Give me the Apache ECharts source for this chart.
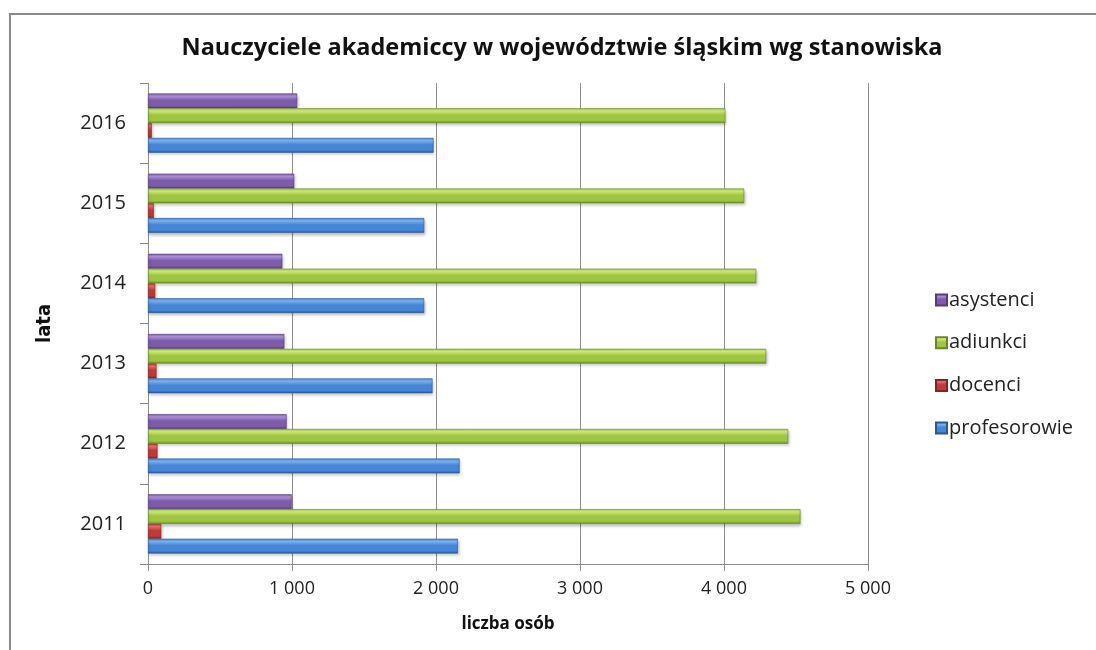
<!DOCTYPE html>
<html>
<head>
<meta charset="utf-8">
<script src="https://cdn.jsdelivr.net/npm/echarts@6/dist/echarts.min.js"></script>
<style>
  html, body { margin: 0; padding: 0; background: #ffffff; }
  #chart { width: 1096px; height: 650px; }
</style>
</head>
<body>
<div id="chart"></div>
<script>
// Lata (oś kategorii, od dołu do góry)
const years = ['2011', '2012', '2013', '2014', '2015', '2016'];

// Liczba osób wg stanowiska
const profesorowie = [2152, 2164, 1976, 1918, 1918, 1983];
const docenci      = [92, 66, 59, 50, 40, 26];
const adiunkci     = [4531, 4446, 4293, 4224, 4140, 4010];
const asystenci    = [998, 963, 947, 933, 1016, 1036];

const legendOrder = ['asystenci', 'adiunkci', 'docenci', 'profesorowie'];

const FONT = '"Open Sans", "Liberation Sans", sans-serif';

// Pionowy gradient dający efekt wypukłego, "szklanego" słupka
function bevel(light, base, dark) {
  return new echarts.graphic.LinearGradient(0, 0, 0, 1, [
    { offset: 0, color: base },
    { offset: 0.18, color: light },
    { offset: 0.45, color: base },
    { offset: 0.82, color: base },
    { offset: 1, color: dark }
  ]);
}

const palette = {
  profesorowie: { light: '#7fb8f4', base: '#4686d8', dark: '#2a5895' },
  docenci:      { light: '#e27471', base: '#c23a36', dark: '#862320' },
  adiunkci:     { light: '#d3f081', base: '#9fc640', dark: '#67882a' },
  asystenci:    { light: '#b394dc', base: '#7f5cab', dark: '#553d78' }
};

function makeSeries(name, values) {
  const p = palette[name];
  return {
    name: name,
    type: 'bar',
    data: values,
    barGap: '0%',
    barWidth: 14.8,
    itemStyle: {
      color: bevel(p.light, p.base, p.dark),
      borderColor: p.dark,
      borderWidth: 0.6,
      shadowColor: 'rgba(0,0,0,0.25)',
      shadowBlur: 3,
      shadowOffsetX: 1,
      shadowOffsetY: 2
    },
    emphasis: { disabled: true }
  };
}

const chart = echarts.init(document.getElementById('chart'), null, { renderer: 'canvas' });

chart.setOption({
  animation: false,
  backgroundColor: '#ffffff',
  graphic: [{
    type: 'rect',
    shape: { x: 10, y: 14, width: 1200, height: 800 },
    style: { fill: 'none', stroke: '#8a8a8a', lineWidth: 2 },
    silent: true,
    z: -10
  }],
  title: {
    text: 'Nauczyciele akademiccy w województwie śląskim wg stanowiska',
    left: 557,
    top: 31,
    textAlign: 'center',
    textStyle: { fontFamily: FONT, fontWeight: 'bold', fontSize: 23.5, color: '#111111' }
  },
  legend: {
    orient: 'vertical',
    left: 930,
    top: 285,
    itemWidth: 11,
    itemHeight: 11,
    itemGap: 22.7,
    icon: 'rect',
    data: legendOrder,
    textStyle: { fontFamily: FONT, fontSize: 20, color: '#222222', padding: [0, 0, 0, -3] }
  },
  grid: { left: 148, right: 228, top: 83, bottom: 86 },
  xAxis: {
    type: 'value',
    min: 0,
    max: 5000,
    interval: 1000,
    name: 'liczba osób',
    nameLocation: 'middle',
    nameGap: 52,
    nameTextStyle: { fontFamily: FONT, fontWeight: 'bold', fontSize: 17, color: '#111111' },
    axisLine: { show: true, lineStyle: { color: '#8c8c8c', width: 1 } },
    axisTick: { show: true, length: 7, lineStyle: { color: '#8c8c8c' } },
    axisLabel: {
      fontFamily: FONT, fontSize: 18, color: '#222222', margin: 16,
      formatter: v => String(v).replace(/\B(?=(\d{3})+(?!\d))/g, ' ')
    },
    splitLine: { show: true, lineStyle: { color: '#8c8c8c', width: 1 } }
  },
  yAxis: {
    type: 'category',
    data: years,
    name: 'lata',
    nameLocation: 'middle',
    nameGap: 93,
    nameRotate: 90,
    nameTextStyle: { fontFamily: '"DejaVu Sans Condensed", "Open Sans", sans-serif', fontWeight: 'bold', fontSize: 20, color: '#111111' },
    axisLine: { show: true, lineStyle: { color: '#8c8c8c', width: 1 } },
    axisTick: { show: true, length: 8, lineStyle: { color: '#8c8c8c' } },
    axisLabel: { fontFamily: FONT, fontSize: 20, color: '#222222', margin: 22 }
  },
  // kolejność serii: pierwsza rysowana u góry grupy
  series: [
    makeSeries('asystenci', asystenci),
    makeSeries('adiunkci', adiunkci),
    makeSeries('docenci', docenci),
    makeSeries('profesorowie', profesorowie)
  ]
});
</script>
</body>
</html>
